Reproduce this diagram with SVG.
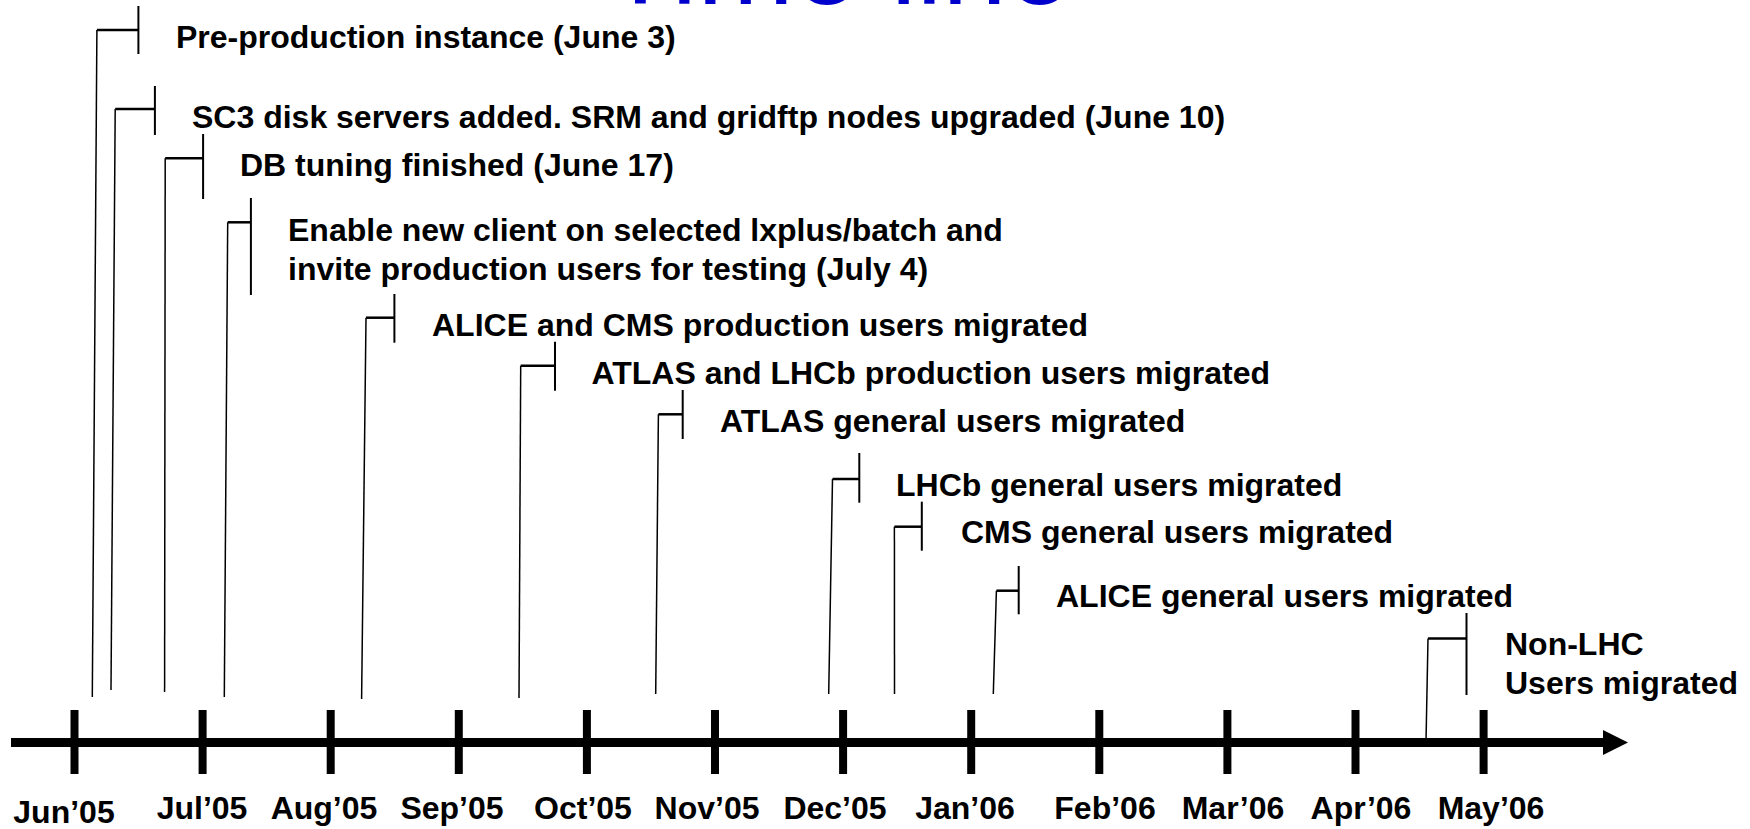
<svg xmlns="http://www.w3.org/2000/svg" width="1750" height="829" viewBox="0 0 1750 829">
<style>
.lbl{font-family:"Liberation Sans",Arial,sans-serif;font-weight:bold;font-size:32px;fill:#000}
.mon{font-family:"Liberation Sans",Arial,sans-serif;font-weight:bold;font-size:32px;fill:#000;text-anchor:middle}
.title{font-family:"Liberation Sans",Arial,sans-serif;font-size:116px;fill:#0000CC}
.lead{fill:none;stroke:#000;stroke-width:1.5}
.stub{fill:none;stroke:#000;stroke-width:2.5}
.bar{stroke:#000;stroke-width:2}
.tick{stroke:#000;stroke-width:8}
</style>
<rect width="1750" height="829" fill="#fff"/>
<g id="title"><text class="title" x="605" y="4">Time line</text></g>
<g id="axis">
<line x1="11" y1="742.5" x2="1606" y2="742.5" stroke="#000" stroke-width="9"/>
<polygon points="1603,730 1628,742.5 1603,755" fill="#000"/>
<line class="tick" x1="74.5" y1="710" x2="74.5" y2="774"/>
<line class="tick" x1="202.6" y1="710" x2="202.6" y2="774"/>
<line class="tick" x1="330.7" y1="710" x2="330.7" y2="774"/>
<line class="tick" x1="458.8" y1="710" x2="458.8" y2="774"/>
<line class="tick" x1="586.9" y1="710" x2="586.9" y2="774"/>
<line class="tick" x1="715" y1="710" x2="715" y2="774"/>
<line class="tick" x1="843.1" y1="710" x2="843.1" y2="774"/>
<line class="tick" x1="971.2" y1="710" x2="971.2" y2="774"/>
<line class="tick" x1="1099.3" y1="710" x2="1099.3" y2="774"/>
<line class="tick" x1="1227.4" y1="710" x2="1227.4" y2="774"/>
<line class="tick" x1="1355.5" y1="710" x2="1355.5" y2="774"/>
<line class="tick" x1="1483.6" y1="710" x2="1483.6" y2="774"/>
</g>
<g id="months">
<text class="mon" x="64" y="823">Jun’05</text>
<text class="mon" x="202" y="819">Jul’05</text>
<text class="mon" x="324" y="819">Aug’05</text>
<text class="mon" x="452" y="819">Sep’05</text>
<text class="mon" x="583" y="819">Oct’05</text>
<text class="mon" x="707" y="819">Nov’05</text>
<text class="mon" x="835" y="819">Dec’05</text>
<text class="mon" x="965" y="819">Jan’06</text>
<text class="mon" x="1105" y="819">Feb’06</text>
<text class="mon" x="1233" y="819">Mar’06</text>
<text class="mon" x="1361" y="819">Apr’06</text>
<text class="mon" x="1491" y="819">May’06</text>
</g>
<g id="connectors">
<path class="lead" d="M92.3,697 L96.9,30"/><path class="stub" d="M96.9,30 H138.4"/>
<path class="lead" d="M111,690 L115.2,109"/><path class="stub" d="M115.2,109 H154.9"/>
<path class="lead" d="M164.6,692 L165.2,158.3"/><path class="stub" d="M165.2,158.3 H203.1"/>
<path class="lead" d="M224.3,697 L227.7,222.3"/><path class="stub" d="M227.7,222.3 H250.9"/>
<path class="lead" d="M361.6,699 L366,317.7"/><path class="stub" d="M366,317.7 H394.4"/>
<path class="lead" d="M519,698 L520.7,365.7"/><path class="stub" d="M520.7,365.7 H555"/>
<path class="lead" d="M655.7,694 L658.4,414.3"/><path class="stub" d="M658.4,414.3 H682.7"/>
<path class="lead" d="M828.7,694 L832.5,479"/><path class="stub" d="M832.5,479 H859.3"/>
<path class="lead" d="M894.5,694 L894.4,526.7"/><path class="stub" d="M894.4,526.7 H921.8"/>
<path class="lead" d="M993.3,694 L996.4,590.7"/><path class="stub" d="M996.4,590.7 H1018.7"/>
<path class="lead" d="M1426,742 L1428,638.5"/><path class="stub" d="M1428,638.5 H1466.5"/>
</g>
<g id="m1"><line class="bar" x1="138.4" y1="6" x2="138.4" y2="54"/><text class="lbl" x="176" y="48">Pre-production instance (June 3)</text></g>
<g id="m2"><line class="bar" x1="154.9" y1="86" x2="154.9" y2="135"/><text class="lbl" x="192" y="128">SC3 disk servers added. SRM and gridftp nodes upgraded (June 10)</text></g>
<g id="m3"><line class="bar" x1="203.1" y1="134" x2="203.1" y2="199"/><text class="lbl" x="240" y="176">DB tuning finished (June 17)</text></g>
<g id="m4"><line class="bar" x1="250.9" y1="198" x2="250.9" y2="295"/><text class="lbl" x="288" y="241">Enable new client on selected lxplus/batch and</text><text class="lbl" x="288" y="280">invite production users for testing (July 4)</text></g>
<g id="m5"><line class="bar" x1="394.4" y1="294" x2="394.4" y2="342.7"/><text class="lbl" x="432" y="336">ALICE and CMS production users migrated</text></g>
<g id="m6"><line class="bar" x1="555" y1="341.7" x2="555" y2="390.7"/><text class="lbl" x="591.5" y="384">ATLAS and LHCb production users migrated</text></g>
<g id="m7"><line class="bar" x1="682.7" y1="390" x2="682.7" y2="439"/><text class="lbl" x="720" y="432">ATLAS general users migrated</text></g>
<g id="m8"><line class="bar" x1="859.3" y1="453" x2="859.3" y2="502.7"/><text class="lbl" x="896" y="496">LHCb general users migrated</text></g>
<g id="m9"><line class="bar" x1="921.8" y1="501.7" x2="921.8" y2="550.7"/><text class="lbl" x="961" y="543">CMS general users migrated</text></g>
<g id="m10"><line class="bar" x1="1018.7" y1="566" x2="1018.7" y2="614.3"/><text class="lbl" x="1056" y="607">ALICE general users migrated</text></g>
<g id="m11"><line class="bar" x1="1466.5" y1="613" x2="1466.5" y2="695"/><text class="lbl" x="1505" y="655">Non-LHC</text><text class="lbl" x="1505" y="694">Users migrated</text></g>
</svg>
